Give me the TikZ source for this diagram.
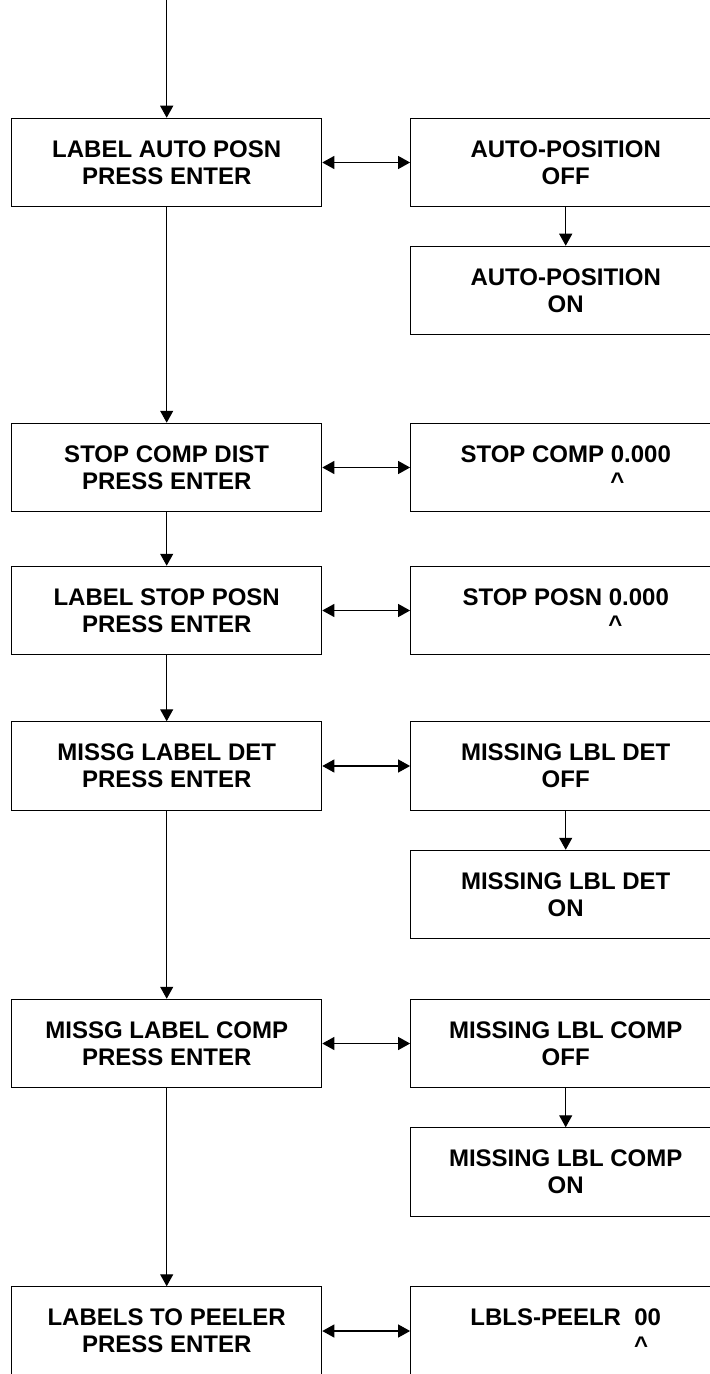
\documentclass[tikz,border=0pt]{standalone}
\usepackage{fontspec}
\setmainfont{Liberation Sans}
\usetikzlibrary{arrows.meta}

\begin{document}
\begin{tikzpicture}[x=0.5pt, y=-0.5pt, line width=0.6pt,
  font=\fontsize{12pt}{13.65pt}\selectfont\bfseries,
  >={Triangle[length=6pt,width=6.5pt]},
  box/.style={draw, minimum width=155pt, minimum height=44.15pt, inner sep=0pt, align=center}]

\clip (0,0) rectangle (710,1374);

\begin{scope}
\coordinate (in) at (166.7,0);

% menu column
\node[box] (l1) at (166.7,162.5) {LABEL AUTO POSN\\PRESS ENTER};
\node[box] (l2) at (166.7,467.5) {STOP COMP DIST\\PRESS ENTER};
\node[box] (l3) at (166.7,610.5) {LABEL STOP POSN\\PRESS ENTER};
\node[box] (l4) at (166.7,766) {MISSG LABEL DET\\PRESS ENTER};
\node[box] (l5) at (166.7,1043.5) {MISSG LABEL COMP\\PRESS ENTER};
\node[box] (l6) at (166.7,1331) {LABELS TO PEELER\\PRESS ENTER};

% settings column
\node[box] (r1) at (565.7,162.5) {AUTO-POSITION\\OFF};
\node[box] (r1b) at (565.7,290.5) {AUTO-POSITION\\ON};
\node[box] (r2) at (565.7,467.5) {STOP COMP 0.000\\\hphantom{STOP COMP }\textasciicircum\hphantom{.000}};
\node[box] (r3) at (565.7,610.5) {STOP POSN 0.000\\\hphantom{STOP POSN }\textasciicircum\hphantom{.000}};
\node[box] (r4) at (565.7,766) {MISSING LBL DET\\OFF};
\node[box] (r4b) at (565.7,894.5) {MISSING LBL DET\\ON};
\node[box] (r5) at (565.7,1043.5) {MISSING LBL COMP\\OFF};
\node[box] (r5b) at (565.7,1172) {MISSING LBL COMP\\ON};
\node[box] (r6) at (565.7,1331) {LBLS-PEELR\ \ 00\\\hphantom{LBLS-PEELR\ \ }\textasciicircum\hphantom{0}};

\draw[->] (in) -- (l1);
\draw[->] (l1) -- (l2);
\draw[->] (l2) -- (l3);
\draw[->] (l3) -- (l4);
\draw[->] (l4) -- (l5);
\draw[->] (l5) -- (l6);

\draw[<->] (l1) -- (r1);
\draw[<->] (l2) -- (r2);
\draw[<->] (l3) -- (r3);
\draw[<->] (l4) -- (r4);
\draw[<->] (l5) -- (r5);
\draw[<->] (l6) -- (r6);

\draw[->] (r1) -- (r1b);
\draw[->] (r4) -- (r4b);
\draw[->] (r5) -- (r5b);
\end{scope}

\end{tikzpicture}
\end{document}
